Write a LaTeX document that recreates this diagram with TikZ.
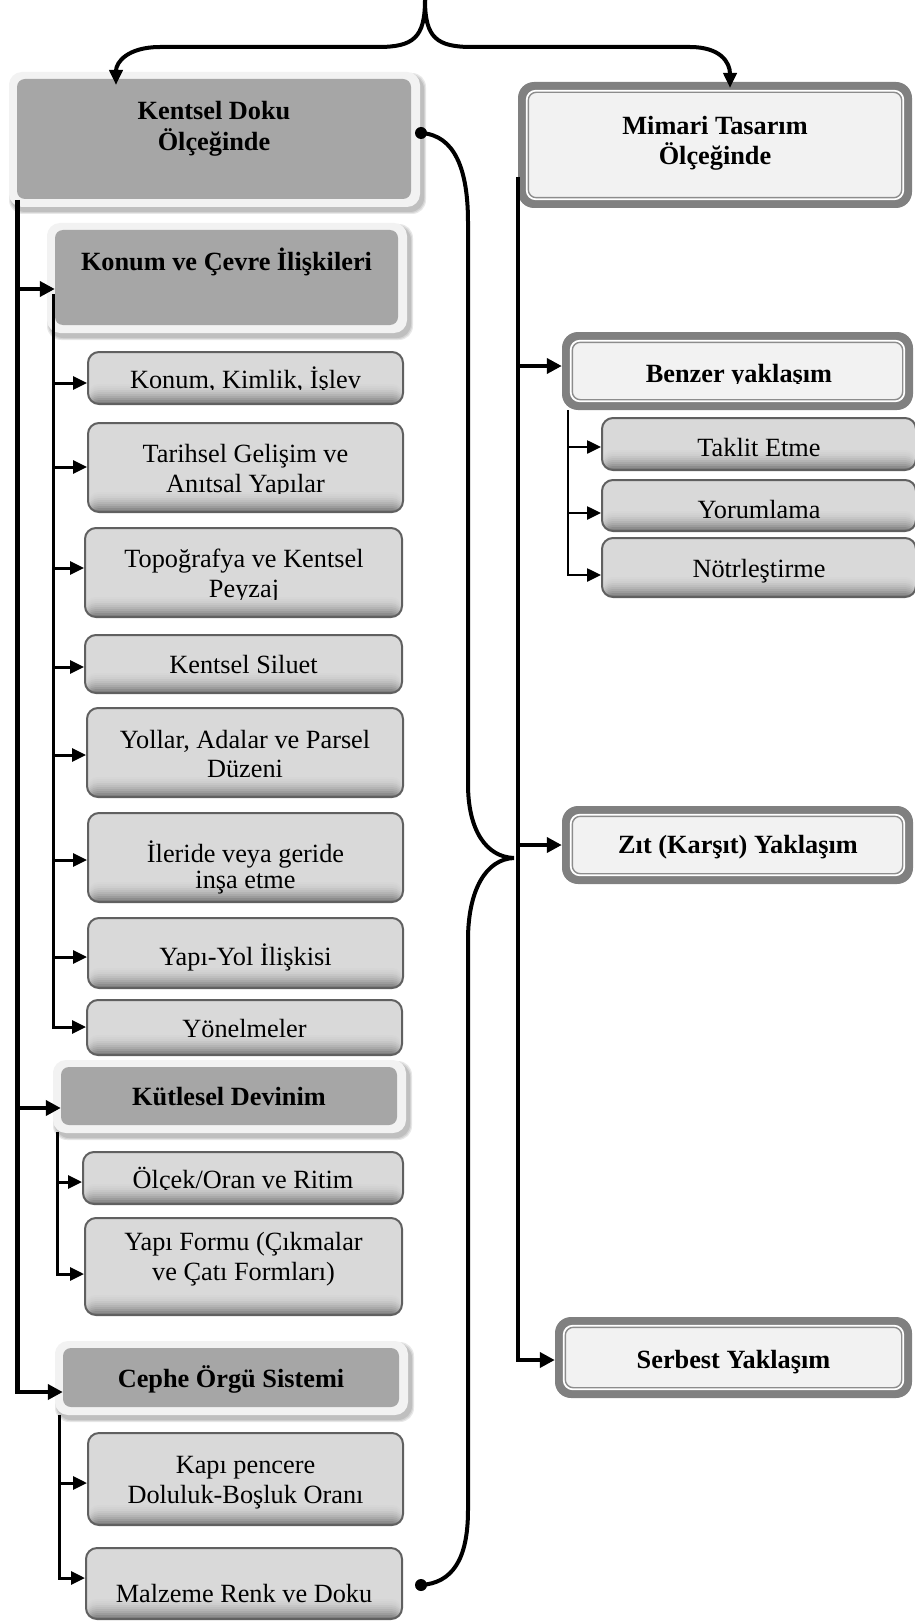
\documentclass[tikz,border=0pt]{standalone}
\usepackage{fontspec}
\setmainfont{Liberation Serif}
\usetikzlibrary{arrows.meta}
\definecolor{hdrgray}{HTML}{A6A6A6}
\definecolor{glowc}{HTML}{F2F2F2}
\definecolor{subfill}{HTML}{D9D9D9}
\definecolor{bevdark}{HTML}{7A7A7A}
\definecolor{subline}{HTML}{606060}
\definecolor{bandc}{HTML}{808080}
\definecolor{rfill}{HTML}{F2F2F2}
\definecolor{rline}{HTML}{8C8C8C}
\newcommand\fs{\fontsize{26.3}{30}\selectfont}
% generic box node: style, name, x1, y1, x2, y2
\newcommand\bx[6]{\node[#1, inner sep=0pt, minimum width={(#5-#3)*1pt}, minimum height={(#6-#4)*1pt}] (#2) at ({(#3+#5)/2},{(#4+#6)/2}) {};}
% header box with light glow and soft shadow
\newcommand\hb[5]{%
  \foreach \e in {3,2,1}{\fill[black, opacity=0.09, rounded corners=14pt] ({#2-8+3-\e},{#3-7+4-\e}) rectangle ({#4+9+3+\e},{#5+8+4+\e});}
  \fill[glowc, rounded corners=13pt] ({#2-8},{#3-7}) rectangle ({#4+9},{#5+8});
  \bx{hdr}{#1}{#2}{#3}{#4}{#5}}
% right box with thick grey band and double inner line
\newcommand\rb[5]{%
  \bx{rband}{#1}{#2}{#3}{#4}{#5}
  \fill[white, rounded corners=10pt] ([shift={(8,8)}]#1.north west) rectangle ([shift={(-8,-8)}]#1.south east);
  \draw[rline, fill=rfill, line width=1.4pt, rounded corners=8pt] ([shift={(10.5,10.5)}]#1.north west) rectangle ([shift={(-10.5,-10.5)}]#1.south east);}
% stepped bottom bevel for the light sub boxes
\newcommand\bevel{%
  \foreach \i in {1,...,11}{%
    \pgfmathtruncatemacro\pc{0.8*\i*\i}%
    \fill[bevdark!\pc!subfill] ([yshift={(12-\i)*2pt}]path picture bounding box.south west) rectangle (path picture bounding box.south east);}}
\begin{document}
\begin{tikzpicture}[x=1pt,y=-1pt,
  hdr/.style={fill=hdrgray, rounded corners=8pt},
  sub/.style={fill=subfill, draw=subline, line width=2pt, rounded corners=11pt, path picture={\bevel}},
  rband/.style={fill=bandc, rounded corners=16pt},
  txt/.style={font=\fs, inner sep=0pt, anchor=base},
  btxt/.style={font=\fs\bfseries, inner sep=0pt, anchor=base},
  mainarr/.style={line width=4.5pt, -{Triangle[length=15pt,width=15pt]}},
  subarr/.style={line width=3pt, -{Triangle[length=14pt,width=13pt]}},
  brace/.style={line width=4pt},
  dotn/.style={circle, fill=black, inner sep=0pt, minimum size=12pt}]
\useasboundingbox (0,0) rectangle (914,1621);
\fill[white] (0,0) rectangle (914,1621);

% ---------- left column boxes ----------
\hb{kentsel}{17}{79}{411}{199}
\hb{konum}{55}{230}{398}{325}
\bx{sub}{s1}{88}{352}{403}{404}
\bx{sub}{s2}{88}{423}{403}{512}
\bx{sub}{s3}{85}{528}{402}{617}
\bx{sub}{s4}{85}{635}{402}{693}
\bx{sub}{s5}{87}{708}{403}{797}
\bx{sub}{s6}{88}{813}{403}{902}
\bx{sub}{s7}{88}{918}{403}{988}
\bx{sub}{s8}{87}{1000}{402}{1055}
\hb{kutle}{61}{1067}{397}{1125}
\bx{sub}{s9}{83}{1152}{403}{1204}
\bx{sub}{s10}{85}{1218}{402}{1315}
\hb{cephe}{63}{1348}{399}{1407}
\bx{sub}{s11}{88}{1433}{403}{1525}
\bx{sub}{s12}{86}{1548}{402}{1619}

% ---------- right column boxes ----------
\rb{mim}{518}{82}{912}{208}
\rb{benzer}{562}{332}{913}{410}
\bx{sub}{r1}{602}{418}{916}{470}
\bx{sub}{r2}{602}{480}{916}{531}
\bx{sub}{r3}{602}{538}{916}{597}
\rb{zit}{562}{806}{913}{884}
\rb{serbest}{555}{1317}{912}{1398}

% ---------- texts ----------
\node[btxt] (tk1) at (214,120) {Kentsel Doku};
\node[btxt] (tk2) at (214,151) {Ölçeğinde};
\node[btxt] (tko) at (226.5,270) {Konum ve Çevre İlişkileri};
\begin{scope}\clip (80,345) rectangle (410,389.5);
\node[txt] (t1) at (245.5,388) {Konum, Kimlik, İşlev};
\end{scope}
\begin{scope}\clip (80,415) rectangle (410,493.5);
\node[txt] (t2a) at (245.5,462) {Tarihsel Gelişim ve};
\node[txt] (t2b) at (245.5,492) {Anıtsal Yapılar};
\end{scope}
\begin{scope}\clip (80,520) rectangle (410,599);
\node[txt] (t3a) at (244,567) {Topoğrafya ve Kentsel};
\node[txt] (t3b) at (244,597.5) {Peyzaj};
\end{scope}
\node[txt] (t4) at (243.5,673) {Kentsel Siluet};
\node[txt] (t5a) at (245,748) {Yollar, Adalar ve Parsel};
\node[txt] (t5b) at (245,777) {Düzeni};
\node[txt] (t6a) at (245.5,862) {İleride veya geride};
\node[txt] (t6b) at (245.5,888) {inşa etme};
\node[txt] (t7) at (245.5,965) {Yapı-Yol İlişkisi};
\node[txt] (t8) at (244.5,1037) {Yönelmeler};
\node[btxt] (tku) at (229,1105) {Kütlesel Devinim};
\begin{scope}\clip (80,1145) rectangle (410,1189.5);
\node[txt] (t9) at (243,1188) {Ölçek/Oran ve Ritim};
\end{scope}
\node[txt] (t10a) at (243.5,1250) {Yapı Formu (Çıkmalar};
\node[txt] (t10b) at (243.5,1280) {ve Çatı Formları)};
\node[btxt] (tce) at (231,1387) {Cephe Örgü Sistemi};
\node[txt] (t11a) at (245.5,1473) {Kapı pencere};
\node[txt] (t11b) at (245.5,1503) {Doluluk-Boşluk Oranı};
\node[txt] (t12) at (244,1602) {Malzeme Renk ve Doku};

\node[btxt] (tm1) at (715,135) {Mimari Tasarım};
\node[btxt] (tm2) at (715,165) {Ölçeğinde};
\begin{scope}\clip (570,340) rectangle (910,383.5);
\node[btxt] (tbe) at (739,382) {Benzer yaklaşım};
\end{scope}
\node[txt] (tr1) at (759,456) {Taklit Etme};
\node[txt] (tr2) at (759,518) {Yorumlama};
\node[txt] (tr3) at (759,577) {Nötrleştirme};
\node[btxt] (tzi) at (738,853) {Zıt (Karşıt) Yaklaşım};
\node[btxt] (tse) at (733.5,1368) {Serbest Yaklaşım};

% ---------- top brace ----------
\coordinate (btop) at (425,0);
\coordinate (kin) at (116,85);
\coordinate (min) at (730,88);
\draw[brace, -{Triangle[length=15pt,width=13pt]}] (btop) .. controls (425,38) and (413,47) .. (378,47) -- (160,47) .. controls (128,47) and (116,62) .. (kin);
\draw[brace, -{Triangle[length=15pt,width=13pt]}] (btop) .. controls (425,38) and (437,47) .. (472,47) -- (690,47) .. controls (720,47) and (730,62) .. (min);

% ---------- right curly brace ----------
\node[dotn] (da) at (421,133) {};
\node[dotn] (db) at (421,1585) {};
\coordinate (cusp) at (514,858);
\draw[brace] (da.center) .. controls (455,135) and (468,170) .. (468,222) -- (468,784)
  .. controls (468,830) and (486,857) .. (cusp)
  .. controls (486,859) and (468,890) .. (468,940) -- (468,1510)
  .. controls (468,1560) and (452,1583) .. (db.center);

% ---------- left trunk ----------
\coordinate (L) at (17.5,200);
\draw[mainarr] (L) |- (cephe.west |- 0,1392);
\draw[mainarr] (L |- 0,289) -- (konum.west |- 0,289);
\draw[mainarr] (L |- 0,1108) -- (kutle.west |- 0,1108);

\coordinate (K) at (53,294);
\draw[subarr] (K) |- (s8.west |- 0,1027);
\foreach \n/\y in {s1/383, s2/467, s3/568, s4/667, s5/755, s6/860, s7/957}
  \draw[subarr] (K |- 0,\y) -- (\n.west |- 0,\y);

\coordinate (U) at (57,1132);
\draw[subarr] (U) |- (s10.west |- 0,1274);
\draw[subarr] (U |- 0,1182) -- (s9.west |- 0,1182);

\coordinate (C) at (59,1415);
\draw[subarr] (C) |- (s12.west |- 0,1578);
\draw[subarr] (C |- 0,1483) -- (s11.west |- 0,1483);

% ---------- right trunk ----------
\coordinate (R) at (518,177);
\draw[mainarr] (R) |- (serbest.west |- 0,1360);
\draw[mainarr] (R |- 0,366) -- (benzer.west |- 0,366);
\draw[mainarr] (R |- 0,845) -- (zit.west |- 0,845);

\coordinate (B) at (568,410);
\draw[subarr, line width=2.5pt] (B) |- (r3.west |- 0,575);
\draw[subarr, line width=2.5pt] (B |- 0,447) -- (r1.west |- 0,447);
\draw[subarr, line width=2.5pt] (B |- 0,513) -- (r2.west |- 0,513);
\end{tikzpicture}
\end{document}
